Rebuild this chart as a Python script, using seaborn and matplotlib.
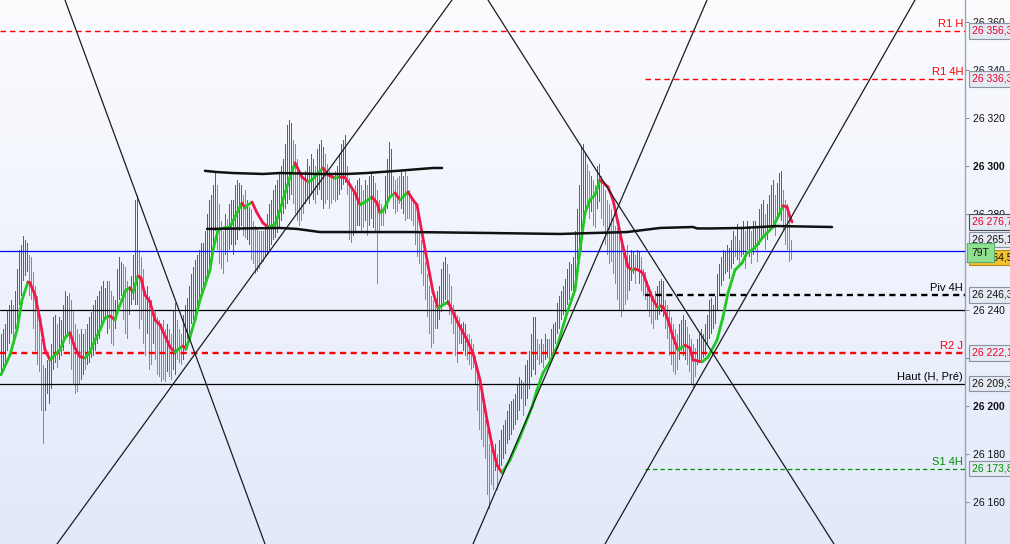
import numpy as np
import pandas as pd
import matplotlib
matplotlib.use("Agg")
import matplotlib.pyplot as plt
import seaborn as sns
from matplotlib.collections import LineCollection

sns.set_style("white")
plt.rcParams['font.family'] = ['Liberation Sans', 'DejaVu Sans']

# ---------------- data ----------------
bar_high = [
    26230, 26232, 26234, 26240, 26242, 26244, 26242, 26248, 26257, 26265,
    26267, 26271, 26269, 26268, 26263, 26262, 26256, 26250, 26246, 26240,
    26228, 26217, 26216, 26219, 26221, 26226, 26237, 26238, 26234, 26237,
    26236, 26242, 26248, 26246, 26247, 26244, 26240, 26234, 26232, 26230,
    26232, 26230, 26232, 26234, 26237, 26239, 26242, 26244, 26246, 26248,
    26250, 26252, 26249, 26252, 26252, 26248, 26246, 26244, 26257, 26262,
    26260, 26259, 26258, 26252, 26250, 26254, 26263, 26286, 26288, 26265,
    26262, 26257, 26248, 26250, 26246, 26244, 26240, 26240, 26237, 26236,
    26234, 26236, 26232, 26234, 26232, 26230, 26240, 26243, 26236, 26232,
    26230, 26238, 26242, 26245, 26250, 26255, 26258, 26261, 26263, 26265,
    26268, 26268, 26273, 26280, 26286, 26288, 26292, 26298, 26292, 26284,
    26277, 26273, 26280, 26278, 26284, 26286, 26286, 26292, 26294, 26293,
    26292, 26288, 26290, 26286, 26283, 26282, 26277, 26275, 26274, 26273,
    26273, 26273, 26275, 26280, 26284, 26286, 26290, 26292, 26294, 26297,
    26300, 26303, 26309, 26317, 26319, 26318, 26311, 26309, 26303, 26298,
    26296, 26294, 26298, 26303, 26300, 26305, 26303, 26300, 26307, 26309,
    26311, 26308, 26305, 26301, 26298, 26296, 26295, 26298, 26300, 26305,
    26309, 26311, 26313, 26300, 26295, 26292, 26290, 26292, 26294, 26295,
    26292, 26290, 26294, 26292, 26296, 26297, 26296, 26293, 26290, 26286,
    26284, 26282, 26296, 26303, 26310, 26307, 26296, 26294, 26295, 26296,
    26298, 26296, 26298, 26296, 26290, 26288, 26286, 26285, 26280, 26273,
    26269, 26265, 26260, 26255, 26250, 26246, 26244, 26242, 26248, 26250,
    26257, 26260, 26262, 26259, 26255, 26250, 26242, 26240, 26238, 26237,
    26234, 26235, 26234, 26230, 26230, 26228, 26226, 26221, 26215, 26212,
    26209, 26205, 26194, 26190, 26184, 26182, 26182, 26184, 26180, 26186,
    26190, 26192, 26194, 26198, 26201, 26202, 26203, 26205, 26209, 26212,
    26211, 26210, 26217, 26219, 26223, 26230, 26237, 26237, 26228, 26226,
    26228, 26226, 26230, 26228, 26228, 26232, 26234, 26235, 26243, 26246,
    26248, 26250, 26253, 26257, 26260, 26259, 26262, 26273, 26282, 26292,
    26308, 26309, 26305, 26301, 26298, 26296, 26294, 26292, 26300, 26301,
    26296, 26292, 26290, 26286, 26284, 26282, 26278, 26275, 26274, 26271,
    26269, 26267, 26265, 26267, 26263, 26265, 26264, 26263, 26265, 26264,
    26262, 26257, 26256, 26252, 26250, 26248, 26246, 26248, 26250, 26252,
    26253, 26252, 26244, 26242, 26240, 26237, 26234, 26232, 26230, 26234,
    26236, 26238, 26236, 26233, 26230, 26228, 26226, 26224, 26228, 26230,
    26232, 26230, 26234, 26238, 26244, 26245, 26242, 26246, 26255, 26259,
    26262, 26265, 26264, 26267, 26266, 26269, 26273, 26271, 26276, 26269,
    26274, 26277, 26273, 26277, 26275, 26273, 26277, 26277, 26274, 26282,
    26284, 26286, 26280, 26284, 26288, 26292, 26294, 26288, 26293, 26297,
    26298, 26290, 26286, 26284, 26280, 26269,
]
bar_low = [
    26214, 26216, 26218, 26223, 26226, 26230, 26228, 26232, 26236, 26242,
    26246, 26252, 26254, 26256, 26246, 26244, 26232, 26223, 26217, 26214,
    26198, 26184, 26198, 26205, 26201, 26207, 26215, 26218, 26216, 26219,
    26221, 26223, 26228, 26229, 26226, 26215, 26209, 26205, 26206, 26209,
    26211, 26213, 26215, 26217, 26218, 26220, 26221, 26223, 26226, 26228,
    26232, 26234, 26236, 26230, 26232, 26226, 26225, 26232, 26238, 26244,
    26246, 26236, 26230, 26228, 26238, 26242, 26244, 26242, 26242, 26232,
    26236, 26226, 26221, 26230, 26215, 26217, 26226, 26219, 26213, 26212,
    26210, 26211, 26210, 26214, 26212, 26211, 26215, 26213, 26219, 26218,
    26217, 26219, 26223, 26228, 26230, 26234, 26236, 26238, 26240, 26244,
    26246, 26248, 26250, 26252, 26255, 26259, 26265, 26273, 26265, 26259,
    26257, 26255, 26263, 26260, 26265, 26267, 26263, 26267, 26269, 26273,
    26275, 26271, 26270, 26269, 26267, 26261, 26259, 26255, 26256, 26257,
    26259, 26260, 26262, 26263, 26265, 26267, 26269, 26270, 26272, 26274,
    26277, 26280, 26282, 26284, 26286, 26288, 26284, 26280, 26277, 26275,
    26277, 26280, 26284, 26286, 26284, 26288, 26286, 26284, 26288, 26290,
    26286, 26282, 26284, 26286, 26282, 26284, 26286, 26285, 26286, 26288,
    26290, 26292, 26293, 26288, 26269, 26268, 26271, 26273, 26275, 26275,
    26273, 26274, 26277, 26271, 26275, 26278, 26274, 26272, 26251, 26273,
    26275, 26275, 26280, 26282, 26286, 26288, 26282, 26280, 26281, 26284,
    26282, 26280, 26277, 26278, 26278, 26277, 26275, 26267, 26262, 26259,
    26255, 26250, 26244, 26237, 26230, 26224, 26226, 26232, 26232, 26236,
    26239, 26242, 26244, 26242, 26238, 26234, 26230, 26221, 26218, 26226,
    26226, 26223, 26221, 26219, 26217, 26215, 26216, 26209, 26198, 26190,
    26186, 26183, 26178, 26163, 26157, 26167, 26165, 26173, 26165, 26173,
    26175, 26178, 26180, 26184, 26186, 26188, 26190, 26192, 26194, 26198,
    26203, 26196, 26200, 26203, 26207, 26212, 26215, 26213, 26219, 26217,
    26218, 26216, 26219, 26220, 26217, 26221, 26222, 26226, 26230, 26232,
    26236, 26238, 26239, 26242, 26244, 26248, 26246, 26252, 26261, 26267,
    26265, 26272, 26280, 26282, 26278, 26281, 26275, 26274, 26282, 26285,
    26278, 26275, 26267, 26263, 26259, 26260, 26255, 26251, 26244, 26240,
    26237, 26240, 26242, 26244, 26248, 26252, 26255, 26251, 26257, 26251,
    26248, 26246, 26244, 26240, 26237, 26234, 26232, 26236, 26236, 26238,
    26239, 26237, 26232, 26228, 26221, 26217, 26214, 26213, 26215, 26219,
    26223, 26221, 26219, 26217, 26214, 26209, 26207, 26212, 26217, 26218,
    26219, 26220, 26221, 26226, 26228, 26230, 26232, 26234, 26240, 26246,
    26250, 26252, 26255, 26256, 26253, 26257, 26259, 26262, 26261, 26259,
    26262, 26263, 26257, 26265, 26262, 26259, 26263, 26265, 26260, 26267,
    26269, 26271, 26265, 26269, 26273, 26275, 26275, 26271, 26278, 26280,
    26277, 26273, 26267, 26265, 26260, 26261,
]
bar_dir = (
    "BBBBBBRBBB" "BBBBRRRRRR" "RRBBBBBBRB" "BBBBRRRRRR" "BBRBBBBBBB"
    "BBBBRRRBBB" "BRRRBBBBBR" "RRRBRRBRRR" "RRRBRRBBRR" "RBBBBBBBBB"
    "BBBBBBBBRR" "RRBRBBBBBB" "BRRBBRRRRR" "RRBBBBBBBB" "BBBBBBRRRR"
    "RRBBBBBRBB" "BBRRRRRRBB" "BBBRRRBRBB" "RRBRBBBRRR" "RRBBBBRRRR"
    "BBRRRRRRRR" "RRRRRRRRBB" "BBBRRRRRRR" "BBBRRRRRRR" "RRRRRRRBRB"
    "BBBBBBBBBB" "BRBBBBBBRR" "BRBBRBBBBB" "BBBBBBBBBB" "BBBRRBRRBB"
    "RRRRRRRRRR" "RRRRBBBRBB" "RRRRRRRRBB" "BBRRRRRRRB" "BBBRRRRRBB"
    "BBBBBBBBBB" "BBBBBBBRBR" "BBRBBRBBRB" "BBRBBBBRBB" "BRRRRR"
)

# moving average (bar index, value)
ma_x = [0, 4.5, 8, 10.5, 13.5, 14.5, 17, 19.5, 22, 24.5, 27, 29.5, 32, 34.5, 37, 39.5,
        42, 44.5, 47, 49.5, 52, 54.5, 57, 58.5, 60.5, 62.5, 64.5, 66, 68.5, 70, 72,
        74.5, 77, 79.5, 82, 84.5, 87, 89.5, 91, 92.5, 94.5, 97, 99.5, 102, 104.5, 106,
        108.5, 111.5, 114.5, 117, 119.5, 120.5, 122, 123.5, 125.5, 128, 131, 133.5,
        137, 139.5, 142, 144.5, 147, 150.5, 153.5, 155.5, 158.5, 161, 163.5, 167,
        169.5, 172, 174.5, 177, 179.5, 182, 185.5, 188, 189.5, 191, 194.5, 197, 199.5,
        202, 203.5, 206, 208, 209.5, 213, 216, 218.5, 221, 223.5, 225.5, 228.5, 233,
        236, 239.5, 243, 246, 248, 250.5, 254.5, 259.5, 265.5, 268, 271, 274.5, 278,
        283, 287, 289.5, 292, 294.5, 297, 299.5, 303.5, 306, 308.5, 311, 313.5, 315.5,
        317, 318.5, 321, 323.5, 326, 328.5, 330, 331, 333.5, 336, 338.5, 342, 344.5,
        346, 350.5, 353.5, 358, 361, 363.5, 367, 370.5, 373, 375.5, 378, 381, 386,
        388.5, 391, 393, 394.5, 395.5]
ma_y = [26213.0, 26221.3, 26231.7, 26244.2, 26251.7, 26251.3, 26246.3, 26235.9, 26223.4,
        26219.2, 26221.3, 26223.4, 26228.4, 26230.5, 26224.2, 26220.5, 26220.0, 26222.5,
        26227.5, 26231.7, 26236.7, 26237.5, 26235.9, 26240.0, 26244.2, 26248.4, 26249.2,
        26247.5, 26254.2, 26253.4, 26246.3, 26243.4, 26235.9, 26233.8, 26229.2, 26224.6,
        26222.5, 26224.2, 26225.0, 26223.8, 26228.8, 26235.9, 26244.2, 26250.5, 26256.7,
        26265.0, 26273.4, 26274.2, 26274.6, 26278.8, 26283.0, 26284.6, 26282.5, 26283.8,
        26285.0, 26280.5, 26276.3, 26274.6, 26275.5, 26281.7, 26288.8, 26295.4, 26301.3,
        26295.4, 26293.4, 26294.2, 26297.1, 26299.2, 26296.3, 26295.0, 26295.4, 26295.2,
        26292.1, 26288.8, 26283.8, 26285.0, 26287.1, 26284.6, 26280.5, 26281.3, 26287.1,
        26288.8, 26285.9, 26288.0, 26289.2, 26285.9, 26283.8, 26276.7, 26260.9, 26247.5,
        26240.9, 26242.1, 26243.4, 26240.0, 26234.6, 26227.5, 26222.1, 26210.9, 26194.2,
        26181.7, 26175.4, 26172.1, 26177.5, 26187.1, 26199.6, 26206.7, 26213.8, 26218.4,
        26224.6, 26238.8, 26248.4, 26265.0, 26280.4, 26285.9, 26288.0, 26294.2, 26291.3,
        26285.9, 26276.3, 26266.3, 26257.9, 26256.7, 26257.1, 26256.7, 26255.4, 26249.6,
        26244.2, 26240.9, 26241.7, 26241.3, 26235.9, 26228.8, 26223.4, 26225.4, 26224.2,
        26219.2, 26218.4, 26220.4, 26227.5, 26237.1, 26247.1, 26256.7, 26259.6, 26263.8,
        26265.0, 26267.1, 26270.4, 26274.6, 26278.8, 26283.4, 26283.0, 26278.8, 26276.7]

# hand-drawn channel lines (bar index, value)
chan_top_x = [102, 108, 116, 131, 139.5, 159.5, 173, 183, 198, 216, 220.5]
chan_top_y = [26298.0, 26297.5, 26297.1, 26296.7, 26297.1, 26296.7, 26296.7, 26297.1,
              26298.0, 26299.2, 26299.2]
chan_bot_x = [103, 139.5, 148, 159.5, 183, 206, 244.5, 279.5, 296, 313, 329.5, 346, 348,
              354.5, 371, 388, 415.5]
chan_bot_y = [26273.8, 26274.2, 26273.8, 26272.5, 26272.5, 26272.5, 26272.1, 26271.7,
              26272.1, 26272.5, 26274.2, 26274.6, 26274.0, 26274.0, 26274.2, 26275.0, 26274.6]

# straight trend lines: (x0, y0, x1, y1)
trend_lines = [
    (32, 26369.2, 132, 26142.5),
    (28, 26142.5, 225.5, 26369.2),
    (243.5, 26369.2, 416.5, 26142.5),
    (236, 26142.5, 353, 26369.2),
    (302, 26142.5, 457, 26369.2),
]

# level lines
level_names = ["R1 H", "R1 4H", "Piv 4H", "R2 J", "Haut (H, Pré)", "S1 4H"]
level_vals = [26356.3, 26336.3, 26246.3, 26222.1, 26209.3, 26173.8]
level_text = ["26 356,3", "26 336,3", "26 246,3", "26 222,1", "26 209,3", "26 173,8"]
level_start = [-0.5, 322, 322, -0.5, -0.5, 322]
level_color = ["#ff0000", "#ff0000", "#000000", "#ff0000", "#000000", "#009000"]
level_style = ["d", "d", "D", "D", "s", "g"]

price_line = 26264.5
grid_line = 26240.0
ma_last = 26276.7
bid_value = 26265.1
tick_values = [26160, 26180, 26200, 26220, 26240, 26260, 26280, 26300, 26320, 26340, 26360]

# ---------------- figure ----------------
W, H = 1010, 544
fig = plt.figure(figsize=(W / 100, H / 100), dpi=100)

bg = fig.add_axes([0, 0, 1, 1], zorder=-10)
top = np.array([252, 252, 255]) / 255
bot = np.array([225, 233, 250]) / 255
g = np.linspace(0, 1, 256)[:, None, None]
img = top + (bot - top) * g
bg.imshow(img, aspect="auto", extent=[0, 1, 0, 1], origin="upper")
bg.axis("off")

ax = fig.add_axes([0, 0, 965 / W, 1])
ax.set_facecolor("none")

n = len(bar_high)
xs = np.arange(n)
hi = np.array(bar_high, dtype=float)
lo = np.array(bar_low, dtype=float)
cols = ["#0f6ef8" if d == "B" else "#e26464" for d in bar_dir[:n]]
ax.bar(xs, hi - lo, bottom=lo, width=0.5, color=cols, linewidth=0,
       antialiased=False, zorder=2)

# level lines
ax.axhline(price_line, color="#0000ff", lw=0.9, zorder=3)
ax.axhline(grid_line, color="#000000", lw=0.9, zorder=3)
for name, v, xs0, c, st in zip(level_names, level_vals, level_start, level_color, level_style):
    if st == "d":
        kw = dict(lw=1.0, dashes=(4.0, 2.8))
    elif st == "D":
        kw = dict(lw=1.7, dashes=(2.6, 1.9))
    elif st == "g":
        kw = dict(lw=0.9, dashes=(3.5, 2.5))
    else:
        kw = dict(lw=0.9)
    ax.plot([xs0, 482], [v, v], color=c, zorder=3, **kw)
    ax.annotate(name, xy=(963 / 965, v), xycoords=("axes fraction", "data"),
                xytext=(0, 1.5), textcoords="offset points", ha="right", va="bottom",
                fontsize=8, color=c, zorder=6)

# trend lines
for (x0, y0, x1, y1) in trend_lines:
    sns.lineplot(x=[x0, x1], y=[y0, y1], ax=ax, color="#1c1c1c", lw=0.9,
                 estimator=None, sort=False, legend=False, zorder=5)

# channel lines
sns.lineplot(x=chan_top_x, y=chan_top_y, ax=ax, color="#111111", lw=1.8,
             estimator=None, sort=False, legend=False, zorder=5)
sns.lineplot(x=chan_bot_x, y=chan_bot_y, ax=ax, color="#111111", lw=1.8,
             estimator=None, sort=False, legend=False, zorder=5)

# moving average, coloured by direction
mx = np.array(ma_x)
my = np.array(ma_y)
segs = np.stack([np.column_stack([mx[:-1], my[:-1]]), np.column_stack([mx[1:], my[1:]])], axis=1)
seg_cols = ["#1ec81e" if d >= 0 else "#f0184a" for d in np.diff(my)]
lc = LineCollection(segs, colors=seg_cols, linewidths=2.0, zorder=4, capstyle="round",
                    joinstyle="round")
ax.add_collection(lc)

ax.set_xlim(-0.5, 482)
ax.set_ylim(26142.5, 26369.2)
ax.set_xlabel("")
ax.set_ylabel("")
ax.set_xticks([])
ax.yaxis.tick_right()
ax.set_yticks(tick_values)
ax.set_yticklabels([f"{v:,}".replace(",", " ") for v in tick_values])
for lbl in ax.get_yticklabels():
    if lbl.get_text() in ("26 200", "26 300"):
        lbl.set_fontweight("bold")
ax.tick_params(axis="y", direction="out", length=3, width=0.8, color="#8a94a6",
               labelsize=7.5, pad=2.5, labelcolor="#111111")
for s in ["left", "top", "bottom"]:
    ax.spines[s].set_visible(False)
ax.spines["right"].set_color("#9aa4b6")
ax.spines["right"].set_linewidth(1.0)

# value boxes on the price axis
def vbox(val, text, color, dy=0, fc="#e4e9f2", ec="#8893a4", x=971.5, pad=0.25):
    ax.annotate(text, xy=(x / W, val), xycoords=("figure fraction", "data"),
                xytext=(0, dy), textcoords="offset points", ha="left", va="center",
                fontsize=7.5, color=color, annotation_clip=False, zorder=10,
                bbox=dict(boxstyle=f"square,pad={pad}", fc=fc, ec=ec, lw=0.8))

vbox(level_vals[0], level_text[0], "#e8002a")
vbox(level_vals[1], level_text[1], "#e8002a")
vbox(ma_last, "26 276,7", "#e8002a", ec="#4a4f58")
vbox(bid_value, "26 265,1", "#111111", dy=7.5)
vbox(price_line, "26 264,5", "#111111", dy=-4.5, fc="#f2c22e", ec="#b08a10")
vbox(price_line, "79T", "#111111", dy=-1.0, fc="#8fe08f", ec="#5fae6f", pad=0.45)
vbox(level_vals[2], level_text[2], "#111111")
vbox(level_vals[3], level_text[3], "#e8002a")
vbox(level_vals[4], level_text[4], "#111111")
vbox(level_vals[5], level_text[5], "#009000")

fig.savefig("out.png", dpi=100)
